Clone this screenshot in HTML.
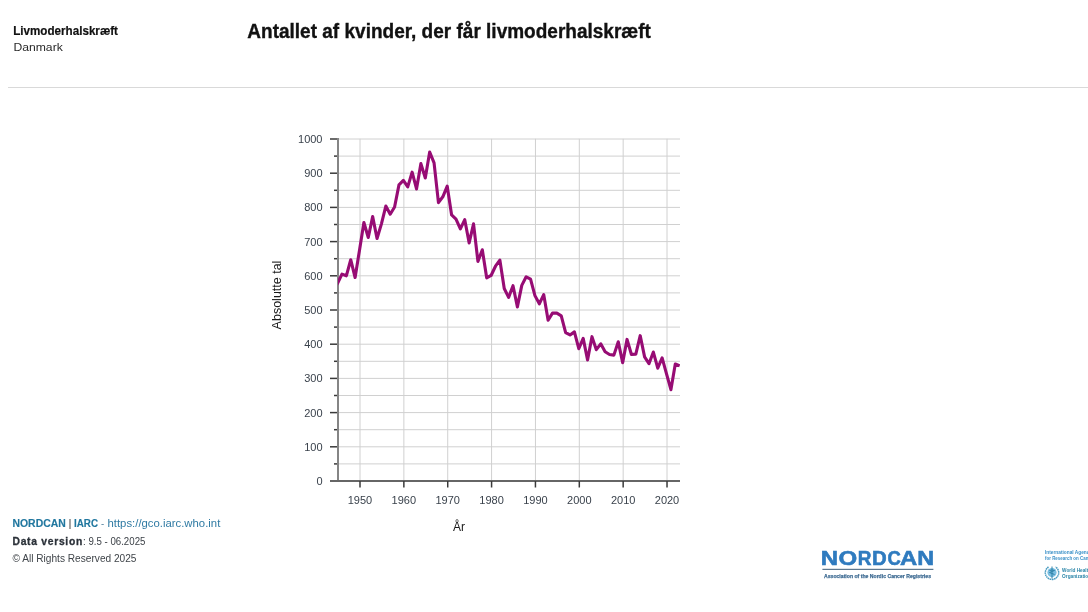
<!DOCTYPE html>
<html><head><meta charset="utf-8">
<style>
html,body{margin:0;padding:0;background:#fff;width:1088px;height:612px;overflow:hidden;position:relative;}
svg{position:absolute;left:0;top:0;will-change:transform;font-family:"Liberation Sans",sans-serif;}
</style></head><body>
<svg width="1088" height="612" viewBox="0 0 1088 612">
<defs><clipPath id="pc"><rect x="338" y="120" width="342" height="362"/></clipPath></defs>
<rect x="8" y="87" width="1080" height="1" fill="#d9d9d9"/>
<text x="13.2" y="34.7" font-size="12" fill="#111" font-weight="bold" textLength="104.8" lengthAdjust="spacingAndGlyphs" stroke="#111" stroke-width="0.2">Livmoderhalskræft</text><text x="13.4" y="50.9" font-size="11.8" fill="#2a2a2a" textLength="49.4" lengthAdjust="spacingAndGlyphs">Danmark</text><text x="247.3" y="37.6" font-size="19.5" fill="#111" font-weight="bold" textLength="403.6" lengthAdjust="spacingAndGlyphs" stroke="#111" stroke-width="0.35">Antallet af kvinder, der får livmoderhalskræft</text><text x="12.5" y="526.9" font-size="10.4" fill="#21779f" font-weight="bold" textLength="53.2" lengthAdjust="spacingAndGlyphs" stroke="#21779f" stroke-width="0.15">NORDCAN</text><text x="68.6" y="527" font-size="11.5" fill="#3a3a3a">|</text><text x="74" y="526.9" font-size="10.4" fill="#21779f" font-weight="bold" textLength="24" lengthAdjust="spacingAndGlyphs" stroke="#21779f" stroke-width="0.15">IARC</text><text x="101" y="526.9" font-size="9.6" fill="#3a6f90">-</text><text x="107.5" y="526.9" font-size="10" fill="#2f7aa3" textLength="112.8" lengthAdjust="spacingAndGlyphs">https://gco.iarc.who.int</text><text x="12.5" y="544.6" font-size="10.3" fill="#2b3139" font-weight="bold" letter-spacing="0.72" stroke="#2b3139" stroke-width="0.3">Data version</text><text x="83" y="544.7" font-size="10.3" fill="#3a3f45" textLength="62.4" lengthAdjust="spacingAndGlyphs">: 9.5 - 06.2025</text><text x="12.5" y="561.8" font-size="10" fill="#3f4449" textLength="124" lengthAdjust="spacingAndGlyphs">© All Rights Reserved 2025</text><text x="453" y="530.7" font-size="12" fill="#1a1a1a">År</text>
<g stroke="#d0d0d0" stroke-width="1"><line x1="338" x2="680" y1="463.90" y2="463.90"/><line x1="338" x2="680" y1="446.80" y2="446.80"/><line x1="338" x2="680" y1="429.70" y2="429.70"/><line x1="338" x2="680" y1="412.60" y2="412.60"/><line x1="338" x2="680" y1="395.50" y2="395.50"/><line x1="338" x2="680" y1="378.40" y2="378.40"/><line x1="338" x2="680" y1="361.30" y2="361.30"/><line x1="338" x2="680" y1="344.20" y2="344.20"/><line x1="338" x2="680" y1="327.10" y2="327.10"/><line x1="338" x2="680" y1="310.00" y2="310.00"/><line x1="338" x2="680" y1="292.90" y2="292.90"/><line x1="338" x2="680" y1="275.80" y2="275.80"/><line x1="338" x2="680" y1="258.70" y2="258.70"/><line x1="338" x2="680" y1="241.60" y2="241.60"/><line x1="338" x2="680" y1="224.50" y2="224.50"/><line x1="338" x2="680" y1="207.40" y2="207.40"/><line x1="338" x2="680" y1="190.30" y2="190.30"/><line x1="338" x2="680" y1="173.20" y2="173.20"/><line x1="338" x2="680" y1="156.10" y2="156.10"/><line x1="338" x2="680" y1="139.00" y2="139.00"/><line x1="360.00" x2="360.00" y1="138.8" y2="481"/><line x1="403.86" x2="403.86" y1="138.8" y2="481"/><line x1="447.72" x2="447.72" y1="138.8" y2="481"/><line x1="491.58" x2="491.58" y1="138.8" y2="481"/><line x1="535.44" x2="535.44" y1="138.8" y2="481"/><line x1="579.30" x2="579.30" y1="138.8" y2="481"/><line x1="623.16" x2="623.16" y1="138.8" y2="481"/><line x1="667.02" x2="667.02" y1="138.8" y2="481"/></g>
<g stroke="#3a3a3a" stroke-width="1.5"><line x1="330" x2="338" y1="446.80" y2="446.80"/><line x1="330" x2="338" y1="412.60" y2="412.60"/><line x1="330" x2="338" y1="378.40" y2="378.40"/><line x1="330" x2="338" y1="344.20" y2="344.20"/><line x1="330" x2="338" y1="310.00" y2="310.00"/><line x1="330" x2="338" y1="275.80" y2="275.80"/><line x1="330" x2="338" y1="241.60" y2="241.60"/><line x1="330" x2="338" y1="207.40" y2="207.40"/><line x1="330" x2="338" y1="173.20" y2="173.20"/><line x1="330" x2="338" y1="139.00" y2="139.00"/><line x1="334" x2="338" y1="463.90" y2="463.90"/><line x1="334" x2="338" y1="429.70" y2="429.70"/><line x1="334" x2="338" y1="395.50" y2="395.50"/><line x1="334" x2="338" y1="361.30" y2="361.30"/><line x1="334" x2="338" y1="327.10" y2="327.10"/><line x1="334" x2="338" y1="292.90" y2="292.90"/><line x1="334" x2="338" y1="258.70" y2="258.70"/><line x1="334" x2="338" y1="224.50" y2="224.50"/><line x1="334" x2="338" y1="190.30" y2="190.30"/><line x1="334" x2="338" y1="156.10" y2="156.10"/></g>
<line x1="330" x2="338" y1="481" y2="481" stroke="#3a3a3a" stroke-width="1.5"/>
<line x1="338" x2="338" y1="138" y2="481" stroke="#858585" stroke-width="2"/>
<line x1="330" x2="680" y1="481" y2="481" stroke="#666" stroke-width="2"/>
<g stroke="#3a3a3a" stroke-width="1.5"><line x1="360.00" x2="360.00" y1="481" y2="487.5"/><line x1="403.86" x2="403.86" y1="481" y2="487.5"/><line x1="447.72" x2="447.72" y1="481" y2="487.5"/><line x1="491.58" x2="491.58" y1="481" y2="487.5"/><line x1="535.44" x2="535.44" y1="481" y2="487.5"/><line x1="579.30" x2="579.30" y1="481" y2="487.5"/><line x1="623.16" x2="623.16" y1="481" y2="487.5"/><line x1="667.02" x2="667.02" y1="481" y2="487.5"/></g>
<g font-size="11" fill="#3a424c" text-anchor="end"><text x="322.5" y="484.90">0</text><text x="322.5" y="450.70">100</text><text x="322.5" y="416.50">200</text><text x="322.5" y="382.30">300</text><text x="322.5" y="348.10">400</text><text x="322.5" y="313.90">500</text><text x="322.5" y="279.70">600</text><text x="322.5" y="245.50">700</text><text x="322.5" y="211.30">800</text><text x="322.5" y="177.10">900</text><text x="322.5" y="142.90">1000</text></g>
<g font-size="11" fill="#3a424c" text-anchor="middle"><text x="360.00" y="504">1950</text><text x="403.86" y="504">1960</text><text x="447.72" y="504">1970</text><text x="491.58" y="504">1980</text><text x="535.44" y="504">1990</text><text x="579.30" y="504">2000</text><text x="623.16" y="504">2010</text><text x="667.02" y="504">2020</text></g>
<text transform="translate(281,295) rotate(-90)" font-size="12.5" fill="#1a1a1a" text-anchor="middle">Absolutte tal</text>
<g clip-path="url(#pc)"><polyline points="333.18,289.48 337.57,283.32 341.96,274.09 346.34,275.80 350.73,259.73 355.11,277.51 359.50,250.15 363.89,222.45 368.27,237.50 372.66,216.63 377.04,238.52 381.43,223.82 385.82,206.03 390.20,214.24 394.59,207.06 398.97,184.83 403.36,180.38 407.75,186.88 412.13,172.17 416.52,188.93 420.90,163.62 425.29,177.99 429.68,152.00 434.06,162.94 438.45,202.61 442.83,196.80 447.22,186.20 451.61,214.92 455.99,219.03 460.38,228.95 464.76,219.71 469.15,242.97 473.54,223.82 477.92,261.44 482.31,249.81 486.69,277.85 491.08,275.46 495.47,266.22 499.85,260.07 504.24,288.45 508.62,297.35 513.01,285.72 517.40,306.92 521.78,285.38 526.17,276.83 530.55,279.22 534.94,295.64 539.33,303.84 543.71,294.61 548.10,320.26 552.48,313.08 556.87,313.08 561.26,315.81 565.64,332.57 570.03,334.97 574.41,331.89 578.80,348.65 583.19,338.39 587.57,359.93 591.96,336.68 596.34,349.67 600.73,343.86 605.12,351.72 609.50,354.46 613.89,355.14 618.27,341.81 622.66,362.67 627.05,339.41 631.43,354.46 635.82,354.12 640.20,335.65 644.59,356.85 648.98,363.69 653.36,352.07 657.75,368.14 662.13,357.88 666.52,373.95 670.91,389.69 675.29,364.04 679.68,365.75" fill="none" stroke="#970c74" stroke-width="3.1" stroke-linejoin="round"/></g>
<text x="820.80" y="565.3" font-size="20.6" font-weight="bold" fill="#2f7bbf" stroke="#2f7bbf" stroke-width="0.6" textLength="17.30" lengthAdjust="spacingAndGlyphs">N</text><text x="838.50" y="565.3" font-size="20.6" font-weight="bold" fill="#2f7bbf" stroke="#2f7bbf" stroke-width="0.6" textLength="18.70" lengthAdjust="spacingAndGlyphs">O</text><text x="857.80" y="565.3" font-size="20.6" font-weight="bold" fill="#2f7bbf" stroke="#2f7bbf" stroke-width="0.6" textLength="13.70" lengthAdjust="spacingAndGlyphs">R</text><text x="871.90" y="565.3" font-size="20.6" font-weight="bold" fill="#2f7bbf" stroke="#2f7bbf" stroke-width="0.6" textLength="14.70" lengthAdjust="spacingAndGlyphs">D</text><text x="887.40" y="565.3" font-size="20.6" font-weight="bold" fill="#2f7bbf" stroke="#2f7bbf" stroke-width="0.6" textLength="13.30" lengthAdjust="spacingAndGlyphs">C</text><text x="899.90" y="565.3" font-size="20.6" font-weight="bold" fill="#2f7bbf" stroke="#2f7bbf" stroke-width="0.6" textLength="17.20" lengthAdjust="spacingAndGlyphs">A</text><text x="917.30" y="565.3" font-size="20.6" font-weight="bold" fill="#2f7bbf" stroke="#2f7bbf" stroke-width="0.6" textLength="16.90" lengthAdjust="spacingAndGlyphs">N</text>
<g id="nordcan">

<rect x="822.4" y="568.8" width="111" height="1.1" fill="#4d6a82"/>
<text x="824" y="578.2" font-size="6.2" font-weight="bold" fill="#3a6890" stroke="#3a6890" stroke-width="0.25" textLength="107" lengthAdjust="spacingAndGlyphs">Association of the Nordic Cancer Registries</text>
</g>
<g id="iarc">
<text x="1045" y="553.8" font-size="6" font-weight="bold" fill="#3a90c8" textLength="47" lengthAdjust="spacingAndGlyphs">International Agency</text>
<text x="1045" y="559.7" font-size="6" font-weight="bold" fill="#3a90c8" textLength="50" lengthAdjust="spacingAndGlyphs">for Research on Cancer</text>
<path d="M1048.5 567 A6.7 6.7 0 1 0 1055.5 567" fill="none" stroke="#4a9cc0" stroke-width="1.5" stroke-dasharray="1.6 0.5"/>
<circle cx="1052" cy="572.6" r="4.6" fill="#78bde0"/>
<path d="M1052 566.5 V578.5 M1049.5 570.5 q2.5 -1 5 0 q-2.5 1 -5 2 q2.5 1 5 2" fill="none" stroke="#2f82a8" stroke-width="1"/>
<text x="1062.1" y="572.1" font-size="5.8" font-weight="bold" fill="#2a85a8" textLength="29" lengthAdjust="spacingAndGlyphs">World Health</text>
<text x="1062.1" y="577.5" font-size="5.8" font-weight="bold" fill="#2a85a8" textLength="29" lengthAdjust="spacingAndGlyphs">Organization</text>
</g>

</svg>
</body></html>
